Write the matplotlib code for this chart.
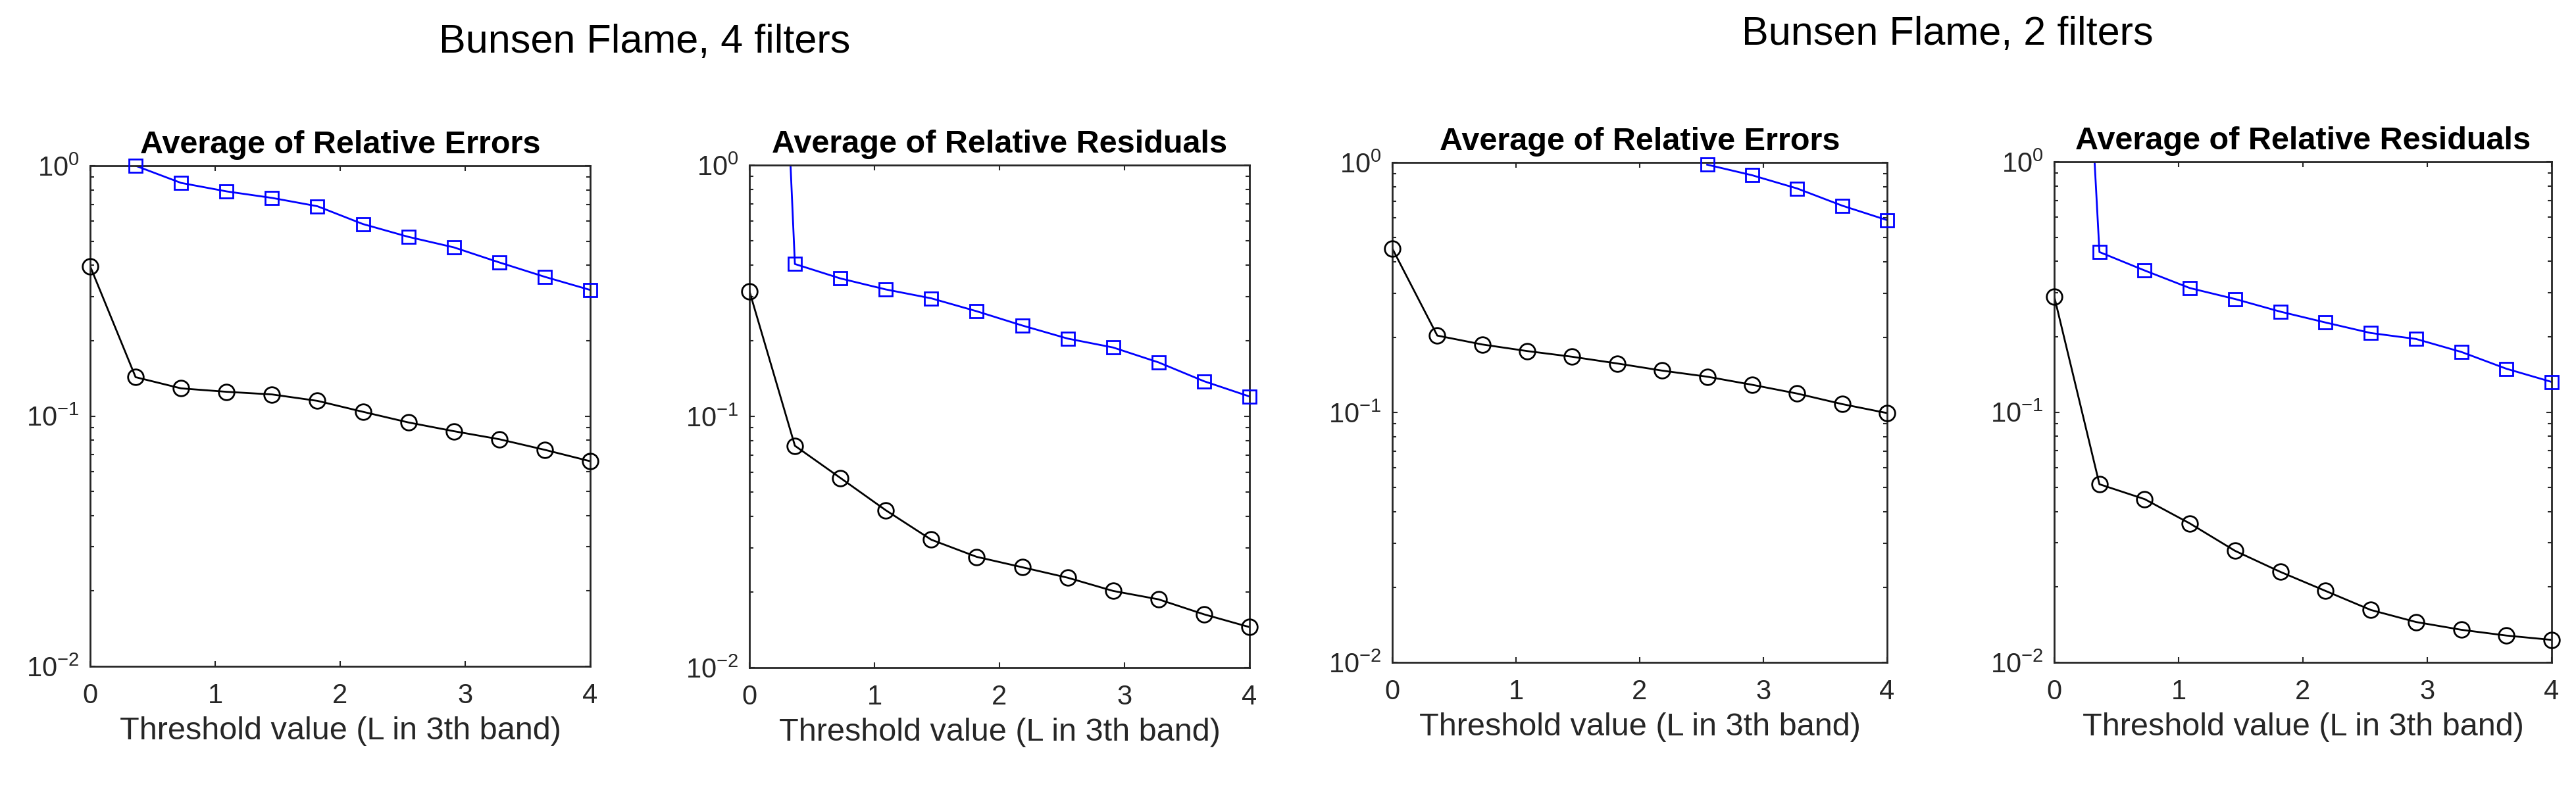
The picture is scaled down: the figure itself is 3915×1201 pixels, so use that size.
import numpy as np
import matplotlib.pyplot as plt
from matplotlib.ticker import LogLocator, NullFormatter

plt.rcParams.update({
    'font.family': ['Liberation Sans', 'DejaVu Sans'],
    'mathtext.fontset': 'custom',
    'mathtext.rm': 'Liberation Sans',
    'mathtext.it': 'Liberation Sans:italic',
    'mathtext.bf': 'Liberation Sans:bold',
})

# threshold values (12 steps from 0 to 4)
x = np.linspace(0, 4, 12)

# Bunsen Flame, 4 filters
err4_blue = [np.nan, 1.0, 0.854, 0.790, 0.744, 0.689, 0.585, 0.520, 0.472, 0.411, 0.360, 0.319]
err4_black = [0.397, 0.143, 0.129, 0.125, 0.122, 0.115, 0.104, 0.0943, 0.0870, 0.0808, 0.0733, 0.0660]
res4_blue = [5000.0, 0.404, 0.354, 0.320, 0.295, 0.262, 0.230, 0.204, 0.188, 0.164, 0.138, 0.120]
res4_black = [0.315, 0.0764, 0.0569, 0.0423, 0.0323, 0.0276, 0.0251, 0.0228, 0.0202, 0.0187, 0.0163, 0.0145]

# Bunsen Flame, 2 filters
err2_blue = [np.nan, np.nan, np.nan, np.nan, np.nan, np.nan, np.nan, 0.980, 0.889, 0.787, 0.672, 0.588]
err2_black = [0.453, 0.203, 0.187, 0.176, 0.167, 0.157, 0.147, 0.139, 0.129, 0.119, 0.108, 0.0994]
res2_blue = [1000.0, 0.436, 0.368, 0.313, 0.283, 0.252, 0.228, 0.207, 0.196, 0.174, 0.149, 0.132]
res2_black = [0.290, 0.0515, 0.0449, 0.0359, 0.0279, 0.0230, 0.0193, 0.0162, 0.0145, 0.0135, 0.0128, 0.0123]

titles = ['Average of Relative Errors', 'Average of Relative Residuals',
          'Average of Relative Errors', 'Average of Relative Residuals']
xlabel = 'Threshold value (L in 3th band)'
suptitles = ['Bunsen Flame, 4 filters', 'Bunsen Flame, 2 filters']

panels = [(err4_blue, err4_black), (res4_blue, res4_black),
          (err2_blue, err2_black), (res2_blue, res2_black)]

W, H = 3916, 1201
# axes boxes in pixels: left, top, right, bottom
boxes = [(137, 252, 897, 1013), (1139, 251, 1899, 1015),
         (2116, 247, 2868, 1007), (3122, 246, 3878, 1007)]

fig = plt.figure(figsize=(W / 100, H / 100), dpi=100)
AX = '#262626'

for (blue, black), title, (l, t, r, b) in zip(panels, titles, boxes):
    ax = fig.add_axes([l / W, 1 - b / H, (r - l) / W, (b - t) / H])
    blue = np.array(blue)
    black = np.array(black)
    for y, col, mk, ms in [(blue, '#0000ff', 's', 15), (black, 'black', 'o', 17)]:
        ax.plot(x, y, '-', color=col, lw=2, zorder=2)
        vis = y <= 1.0001
        ax.plot(x[vis], y[vis], ls='none', marker=mk, ms=ms, mfc='none',
                mec=col, mew=2, clip_on=False, zorder=3)
    ax.set_yscale('log')
    ax.set_ylim(1e-2, 1e0)
    ax.set_xlim(0, 4)
    ax.set_xticks([0, 1, 2, 3, 4])
    ax.yaxis.set_major_locator(LogLocator(base=10, numticks=5))
    ax.yaxis.set_minor_locator(LogLocator(base=10, subs=np.arange(2, 10), numticks=20))
    ax.yaxis.set_minor_formatter(NullFormatter())
    ax.tick_params(which='both', direction='in', top=True, right=True,
                   color=AX, width=1.5, labelcolor=AX)
    ax.tick_params(which='major', length=6, labelsize=30)
    ax.tick_params(which='minor', length=4)
    ax.tick_params(axis='x', pad=18)
    ax.tick_params(axis='y', pad=12)
    for s in ax.spines.values():
        s.set_color(AX)
        s.set_linewidth(2)
    ax.set_title(title, fontsize=35, fontweight='bold', pad=14)
    ax.set_xlabel(xlabel, fontsize=35, color=AX, labelpad=8)

fig.text(980 / W, 1 - 65 / H, suptitles[0], fontsize=44, ha='center', va='center')
fig.text(2960 / W, 1 - 53 / H, suptitles[1], fontsize=44, ha='center', va='center')

fig.savefig('out.png', dpi=100)
